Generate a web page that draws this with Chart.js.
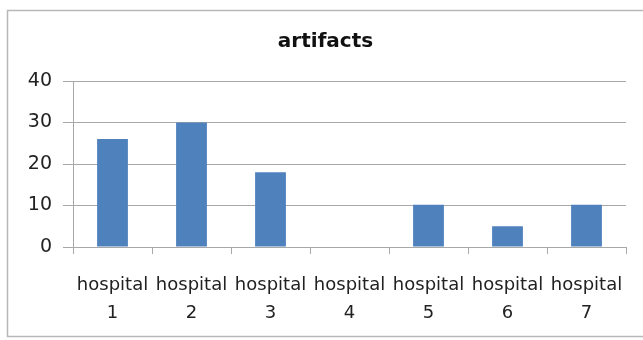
<!DOCTYPE html>
<html>
<head>
<meta charset="utf-8">
<script src="https://cdn.jsdelivr.net/npm/chart.js@4.4.1/dist/chart.umd.min.js"></script>
<style>
html,body{margin:0;padding:0;background:#fff;}
#wrap{width:643px;height:340px;position:relative;}
</style>
</head>
<body>
<div id="wrap"><canvas id="c" width="643" height="340"></canvas></div>
<script>
const categories = [["hospital","1"],["hospital","2"],["hospital","3"],["hospital","4"],["hospital","5"],["hospital","6"],["hospital","7"]];
const artifacts = [26, 30, 18, 0, 10.2, 5, 10.2];
const yTicks = [0, 10, 20, 30, 40];

const frame = {
  id: 'frame',
  beforeDraw(chart) {
    const ctx = chart.ctx;
    ctx.save();
    ctx.fillStyle = '#ffffff';
    ctx.fillRect(0, 0, chart.width, chart.height);
    ctx.strokeStyle = '#b8b8b8';
    ctx.lineWidth = 1.5;
    ctx.strokeRect(7.5, 10.5, 700, 326);
    ctx.restore();
  }
};

new Chart(document.getElementById('c'), {
  type: 'bar',
  data: {
    labels: categories,
    datasets: [{
      label: 'artifacts',
      data: artifacts,
      backgroundColor: '#4f81bd',
      borderWidth: 0,
      barPercentage: 0.39,
      categoryPercentage: 1.0,
      yAxisID: 'y'
    }]
  },
  plugins: [frame],
  options: {
    responsive: false,
    animation: false,
    layout: { padding: { left: 8, right: 0, top: 0, bottom: 0 } },
    plugins: {
      legend: { display: false },
      tooltip: { enabled: false },
      title: {
        display: true,
        text: 'artifacts',
        color: '#111',
        font: { family: 'DejaVu Sans', size: 20, weight: 'bold', lineHeight: 1.2 },
        padding: { top: 30, bottom: 27 }
      }
    },
    scales: {
      x: {
        offset: true,
        grid: { display: true, drawOnChartArea: false, offset: true, color: '#a8a8a8', tickLength: 7 },
        border: { display: true, color: '#a8a8a8' },
        ticks: {
          autoSkip: false, maxRotation: 0, minRotation: 0,
          color: '#222',
          padding: 17,
          font: { family: 'DejaVu Sans', size: 18, lineHeight: 28/18 }
        },
        afterFit(scale) { scale.height = 93; }
      },
      y: {
        min: 0, max: 40,
        afterBuildTicks(scale) { scale.ticks = yTicks.map(v => ({ value: v })); },
        grid: { color: '#a8a8a8', tickLength: 10 },
        border: { display: true, color: '#a8a8a8' },
        ticks: {
          color: '#222',
          padding: 11,
          font: { family: 'DejaVu Sans', size: 19 }
        },
        afterFit(scale) { scale.width = 65; }
      },
      spacer: {
        type: 'linear',
        position: 'right',
        display: true,
        min: 0, max: 40,
        grid: { display: false },
        border: { display: false },
        ticks: { display: false },
        afterFit(scale) { scale.width = 17; }
      }
    }
  }
});
</script>
</body>
</html>
